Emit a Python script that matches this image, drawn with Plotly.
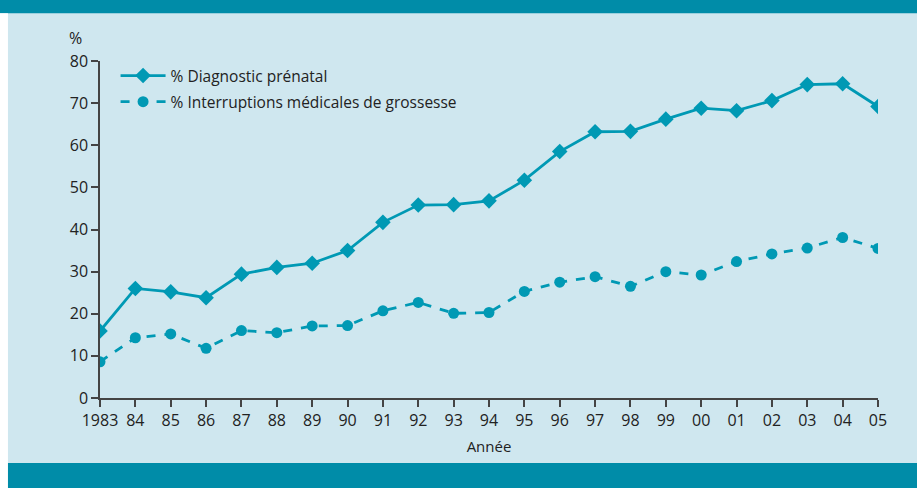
import plotly.graph_objects as go

years = list(range(1983, 2006))
year_labels = ["1983", "84", "85", "86", "87", "88", "89", "90", "91", "92", "93", "94",
               "95", "96", "97", "98", "99", "00", "01", "02", "03", "04", "05"]
diagnostic = [15.9, 26.0, 25.2, 23.8, 29.4, 31.0, 32.0, 35.0, 41.7, 45.8, 45.9, 46.8,
              51.7, 58.5, 63.2, 63.3, 66.2, 68.8, 68.2, 70.6, 74.4, 74.6, 69.2]
img = [8.6, 14.3, 15.2, 11.8, 16.0, 15.5, 17.1, 17.2, 20.7, 22.7, 20.1, 20.3,
       25.3, 27.5, 28.8, 26.5, 30.0, 29.2, 32.4, 34.2, 35.6, 38.1, 35.5]
y_ticks = [0, 10, 20, 30, 40, 50, 60, 70, 80]

LINE = "#0099b4"
BG = "#cfe7ef"
BAR = "#008ca8"
TXT = "#222222"
FONT = "Open Sans"

fig = go.Figure()
fig.add_trace(go.Scatter(
    x=years, y=diagnostic, mode="lines+markers", name="% Diagnostic prénatal",
    line=dict(color=LINE, width=2.8), marker=dict(symbol="diamond", size=12, color=LINE),
    legendgroup="a"))
fig.add_trace(go.Scatter(
    x=years, y=img, mode="lines+markers", name="% Interruptions médicales de grossesse",
    line=dict(color=LINE, width=2.8, dash="dash"), marker=dict(symbol="circle", size=11, color=LINE),
    legendgroup="b"))

fig.update_layout(
    width=917, height=488,
    paper_bgcolor=BG, plot_bgcolor=BG,
    margin=dict(l=100, r=39, t=61, b=90),
    font=dict(family=FONT, size=16, color=TXT),
    showlegend=True,
    legend=dict(x=0.02, y=1.006, xanchor="left", yanchor="top", bgcolor="rgba(0,0,0,0)",
                font=dict(size=15.5, color=TXT), tracegroupgap=3, traceorder="grouped",
                itemwidth=45),
    xaxis=dict(range=[1983, 2005], tickvals=years, ticktext=year_labels,
               showgrid=False, zeroline=False, showline=True, linecolor="#444", linewidth=1.5,
               ticks="outside", ticklen=7, tickcolor="#444", tickwidth=1.5,
               tickfont=dict(size=16, color=TXT),
               title=dict(text="Année", font=dict(size=15, color=TXT), standoff=12)),
    yaxis=dict(range=[0, 80], tickvals=y_ticks, showgrid=False, zeroline=False,
               showline=True, linecolor="#444", linewidth=1.5,
               ticks="outside", ticklen=7, tickcolor="#444", tickwidth=1.5,
               tickfont=dict(size=16, color=TXT)),
    shapes=[
        dict(type="rect", xref="paper", yref="paper", x0=-0.15, x1=1.1, y0=1.142, y1=1.25,
             fillcolor=BAR, line=dict(width=0), layer="below"),
        dict(type="rect", xref="paper", yref="paper", x0=-0.15, x1=1.1, y0=-0.193, y1=-0.35,
             fillcolor=BAR, line=dict(width=0), layer="below"),
        dict(type="rect", xref="paper", yref="paper", x0=-0.15, x1=-0.1183, y0=1.142, y1=-0.35,
             fillcolor="white", line=dict(width=0), layer="above"),
    ],
    annotations=[
        dict(text="%", xref="paper", yref="paper", x=-0.032, y=1.068, showarrow=False,
             xanchor="center", yanchor="middle", font=dict(size=16, color=TXT)),
    ],
)

fig.write_html("out.html", config={"displayModeBar": False},
               post_script="document.body.style.margin='0';document.body.style.overflow='hidden';")
